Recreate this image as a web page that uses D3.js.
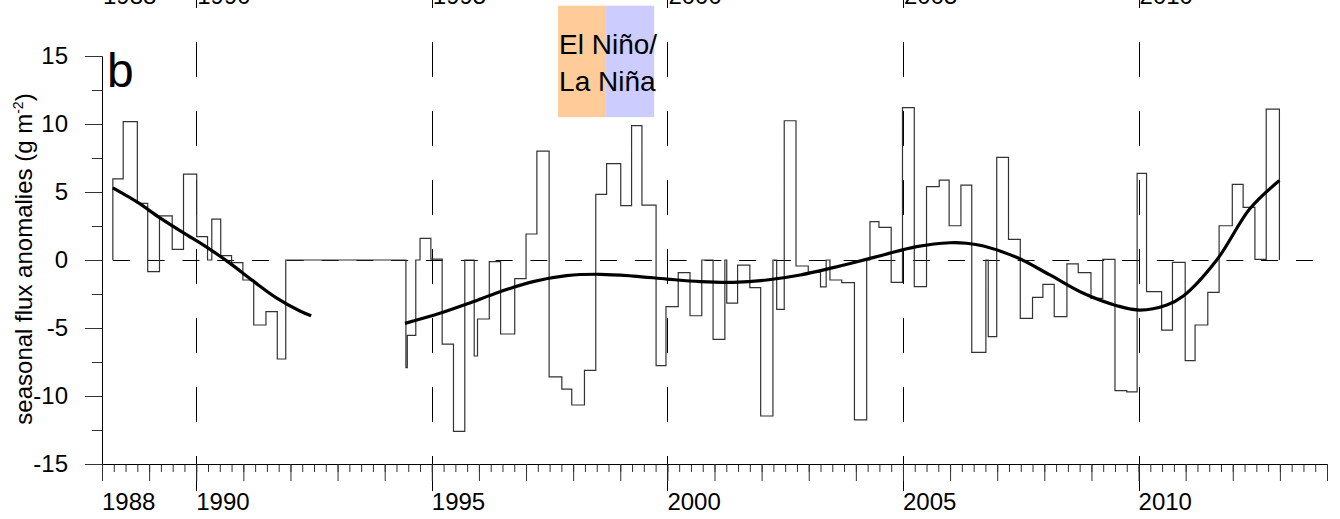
<!DOCTYPE html>
<html>
<head>
<meta charset="utf-8">
<script src="https://cdn.jsdelivr.net/npm/d3@7"></script>
<style>
  html, body { margin: 0; padding: 0; background: #fff; }
  svg { display: block; font-family: Arial, "Liberation Sans", sans-serif; }
</style>
</head>
<body>
<script>
// Seasonal flux anomalies: start of each season (decimal year) and its anomaly
const stepStart = [
    1988.23, 1988.45, 1988.75, 1988.97, 1989.22, 1989.49, 1989.73, 1990.01, 1990.24, 1990.33,
    1990.52, 1990.75, 1990.99, 1991.22, 1991.48, 1991.72, 1991.90,
    1994.45, 1994.48, 1994.66, 1994.75, 1994.98, 1995.22, 1995.46, 1995.70, 1995.90,
    1995.97, 1996.22, 1996.46, 1996.76, 1997.00, 1997.23, 1997.49, 1997.76, 1997.97, 1998.24,
    1998.48, 1998.71, 1999.01, 1999.24, 1999.46, 1999.76, 1999.97, 2000.23, 2000.48, 2000.73,
    2000.97, 2001.22, 2001.26, 2001.49, 2001.75, 2001.98, 2002.24, 2002.32, 2002.48, 2002.73,
    2002.99, 2003.25, 2003.37, 2003.45, 2003.70, 2003.97, 2004.23, 2004.30, 2004.49, 2004.75,
    2004.99, 2005.24, 2005.50, 2005.77, 2005.98, 2006.23, 2006.46, 2006.76, 2006.81, 2006.99,
    2007.24, 2007.49, 2007.75, 2007.97, 2008.21, 2008.48, 2008.72, 2008.99, 2009.24, 2009.50,
    2009.75, 2009.97, 2010.17, 2010.49, 2010.72, 2010.99, 2011.20, 2011.47, 2011.71, 2011.99,
    2012.22, 2012.47, 2012.71
];
const stepValue = [
    5.96, 10.17, 4.17, -0.86, 3.24, 0.78, 6.32, 1.72, 0, 3.01,
    0.32, -0.2, -1.47, -4.78, -3.8, -7.28, 0,
    -7.92, -5.54, 0, 1.59, 0.07, -6.18, -12.6, 0, -7.06,
    -4.34, -0.12, -5.44, -1.37, 1.91, 8.01, -8.6, -9.49, -10.66, -8.11,
    4.83, 7.08, 4.0, 9.88, 4.04, -7.77, -3.43, -0.93, -4.1, 0,
    -5.83, 0, -3.17, -0.38, -2.03, -11.47, 0, -3.63, 10.24, -0.44,
    -0.9, -1.98, 0, -1.47, -1.67, -11.76, 0, 2.82, 2.4, -1.64,
    11.2, -1.96, 5.39, 5.88, 2.52, 5.51, -6.79, 0, -5.64, 7.55,
    1.52, -4.29, -2.75, -1.79, -4.17, -0.29, -0.93, -2.82, 0.05, -9.61,
    -9.69, 6.37, -2.33, -5.15, -0.17, -7.4, -4.78, -2.38, 2.52, 5.56,
    3.87, 0.05, 11.1
];
const stepEnd = 2012.99;

// Smoothed trend, two pieces (before and after the data gap)
const trend1Years = [1988.23, 1988.75, 1989.23, 1989.73, 1990.22, 1990.72, 1991.21, 1991.71, 1992.20, 1992.44];
const trend1Values = [5.3, 4.25, 3.1, 2.0, 0.95, -0.25, -1.55, -2.8, -3.75, -4.1];
const trend2Years = [1994.43, 1995.17, 1995.74, 1996.45, 1997.15, 1997.86, 1998.57, 1999.28, 1999.99, 2000.70,
    2001.40, 2002.11, 2002.82, 2003.52, 2003.88, 2004.58, 2005.29, 2006.00, 2006.35, 2006.71,
    2007.41, 2008.12, 2008.83, 2009.54, 2010.03, 2010.60, 2010.95, 2011.66, 2012.37, 2012.99];
const trend2Values = [-4.66, -3.92, -3.24, -2.33, -1.59, -1.15, -1.05, -1.18, -1.4, -1.59,
    -1.64, -1.47, -1.1, -0.56, -0.26, 0.37, 0.98, 1.27, 1.23, 1.03,
    0.2, -1.1, -2.45, -3.36, -3.68, -3.31, -2.65, 0.0, 3.8, 5.85];

// ENSO annotation periods
const ensoNames = ["El Niño", "La Niña"];
const ensoStart = [1997.68, 1998.70];
const ensoEnd = [1998.70, 1999.72];
const ensoColors = ["#ffcc99", "#ccccff"];

const yTickValues = [-15, -10, -5, 0, 5, 10, 15];
const xLabelYears = [1988, 1990, 1995, 2000, 2005, 2010];
const refYears = [1990, 1995, 2000, 2005, 2010];

const width = 1340, height = 519;

const svg = d3.select("body").append("svg")
    .attr("width", width)
    .attr("height", height);

const x = d3.scaleLinear().domain([1988, 2014]).range([102, 1327]);
const y = d3.scaleLinear().domain([-15, 15]).range([464, 56]);

// ENSO boxes (top of box around 18.7, bottom around 10.5 in value units)
const ensoTop = 18.7, ensoBottom = 10.5;
svg.append("g")
    .selectAll("rect")
    .data(ensoNames)
    .join("rect")
    .attr("x", (d, i) => x(ensoStart[i]))
    .attr("width", (d, i) => x(ensoEnd[i]) - x(ensoStart[i]))
    .attr("y", y(ensoTop))
    .attr("height", y(ensoBottom) - y(ensoTop))
    .attr("fill", (d, i) => ensoColors[i]);

const ensoLabel = svg.append("text")
    .attr("font-size", 28)
    .attr("fill", "#000");
ensoLabel.append("tspan").attr("x", x(ensoStart[0]) + 1).attr("y", 54).text("El Niño/");
ensoLabel.append("tspan").attr("x", x(ensoStart[0]) + 1).attr("y", 91).text("La Niña");

// cut-off tick labels of the panel above
svg.append("g")
    .selectAll("text")
    .data(xLabelYears)
    .join("text")
    .attr("x", d => x(d) + 1)
    .attr("y", 4)
    .attr("font-size", 24)
    .text(d => d);

// vertical reference lines
svg.append("g")
    .selectAll("line")
    .data(refYears)
    .join("line")
    .attr("x1", d => Math.round(x(d)) + 0.5)
    .attr("x2", d => Math.round(x(d)) + 0.5)
    .attr("y1", -27)
    .attr("y2", 491)
    .attr("stroke", "#000")
    .attr("stroke-width", 1)
    .attr("stroke-dasharray", "35,34");

// zero line
svg.append("line")
    .attr("x1", x(1988)).attr("x2", 1321)
    .attr("y1", y(0) + 0.5).attr("y2", y(0) + 0.5)
    .attr("stroke", "#000")
    .attr("stroke-dasharray", "17,17.8")
    .attr("stroke-dashoffset", 24);

// step series
const stepPts = [[stepStart[0], 0]];
stepStart.forEach((t, i) => {
    const tNext = i < stepStart.length - 1 ? stepStart[i + 1] : stepEnd;
    stepPts.push([t, stepValue[i]]);
    stepPts.push([tNext, stepValue[i]]);
});
stepPts.push([stepEnd, 0]);

svg.append("path")
    .datum(stepPts)
    .attr("fill", "none")
    .attr("stroke", "#333")
    .attr("stroke-width", 1.2)
    .attr("d", d3.line().x(d => x(d[0])).y(d => y(d[1])));

// trend curves
const trendLine = d3.line()
    .x(d => x(d[0]))
    .y(d => y(d[1]))
    .curve(d3.curveCatmullRom.alpha(0.5));

[[trend1Years, trend1Values], [trend2Years, trend2Values]].forEach(([ts, vs]) => {
    svg.append("path")
        .datum(ts.map((t, i) => [t, vs[i]]))
        .attr("fill", "none")
        .attr("stroke", "#000")
        .attr("stroke-width", 3.2)
        .attr("d", trendLine);
});

// y axis
const yAxisMinor = d3.axisLeft(y)
    .tickValues(d3.range(-12.5, 15, 5))
    .tickSize(10)
    .tickSizeOuter(0)
    .tickFormat("");
const yAxis = d3.axisLeft(y)
    .tickValues(yTickValues)
    .tickSize(17)
    .tickSizeOuter(0)
    .tickPadding(17)
    .tickFormat(d => String(d));

svg.append("g").attr("transform", "translate(102,0)").call(yAxisMinor);
const yg = svg.append("g").attr("transform", "translate(102,0)").call(yAxis);
yg.selectAll("text").attr("font-size", 24).attr("font-family", null).attr("fill", "#000");

// x axis
const xAxisQuarter = d3.axisBottom(x)
    .tickValues(d3.range(1988, 2014.01, 0.25))
    .tickSize(8)
    .tickSizeOuter(0)
    .tickFormat("");
const xAxisYear = d3.axisBottom(x)
    .tickValues(d3.range(1988, 2015, 1))
    .tickSize(17)
    .tickSizeOuter(0)
    .tickFormat("");

svg.append("g").attr("transform", "translate(0,464)").call(xAxisQuarter);
svg.append("g").attr("transform", "translate(0,464)").call(xAxisYear);

svg.append("g")
    .selectAll("text")
    .data(xLabelYears)
    .join("text")
    .attr("x", d => x(d))
    .attr("y", 510)
    .attr("font-size", 24)
    .text(d => d);

svg.selectAll(".domain").attr("stroke", "#000");
svg.selectAll(".tick line").attr("stroke", "#333");

// panel letter
svg.append("text")
    .attr("x", 107)
    .attr("y", 87)
    .attr("font-size", 48)
    .text("b");

// y axis title
const yTitle = svg.append("text")
    .attr("transform", "translate(32,259) rotate(-90)")
    .attr("text-anchor", "middle")
    .attr("font-size", 24);
yTitle.append("tspan").text("seasonal flux anomalies (g m");
yTitle.append("tspan").attr("font-size", 14).attr("dy", -9).text("-2");
yTitle.append("tspan").attr("dy", 9).text(")");
</script>
</body>
</html>
